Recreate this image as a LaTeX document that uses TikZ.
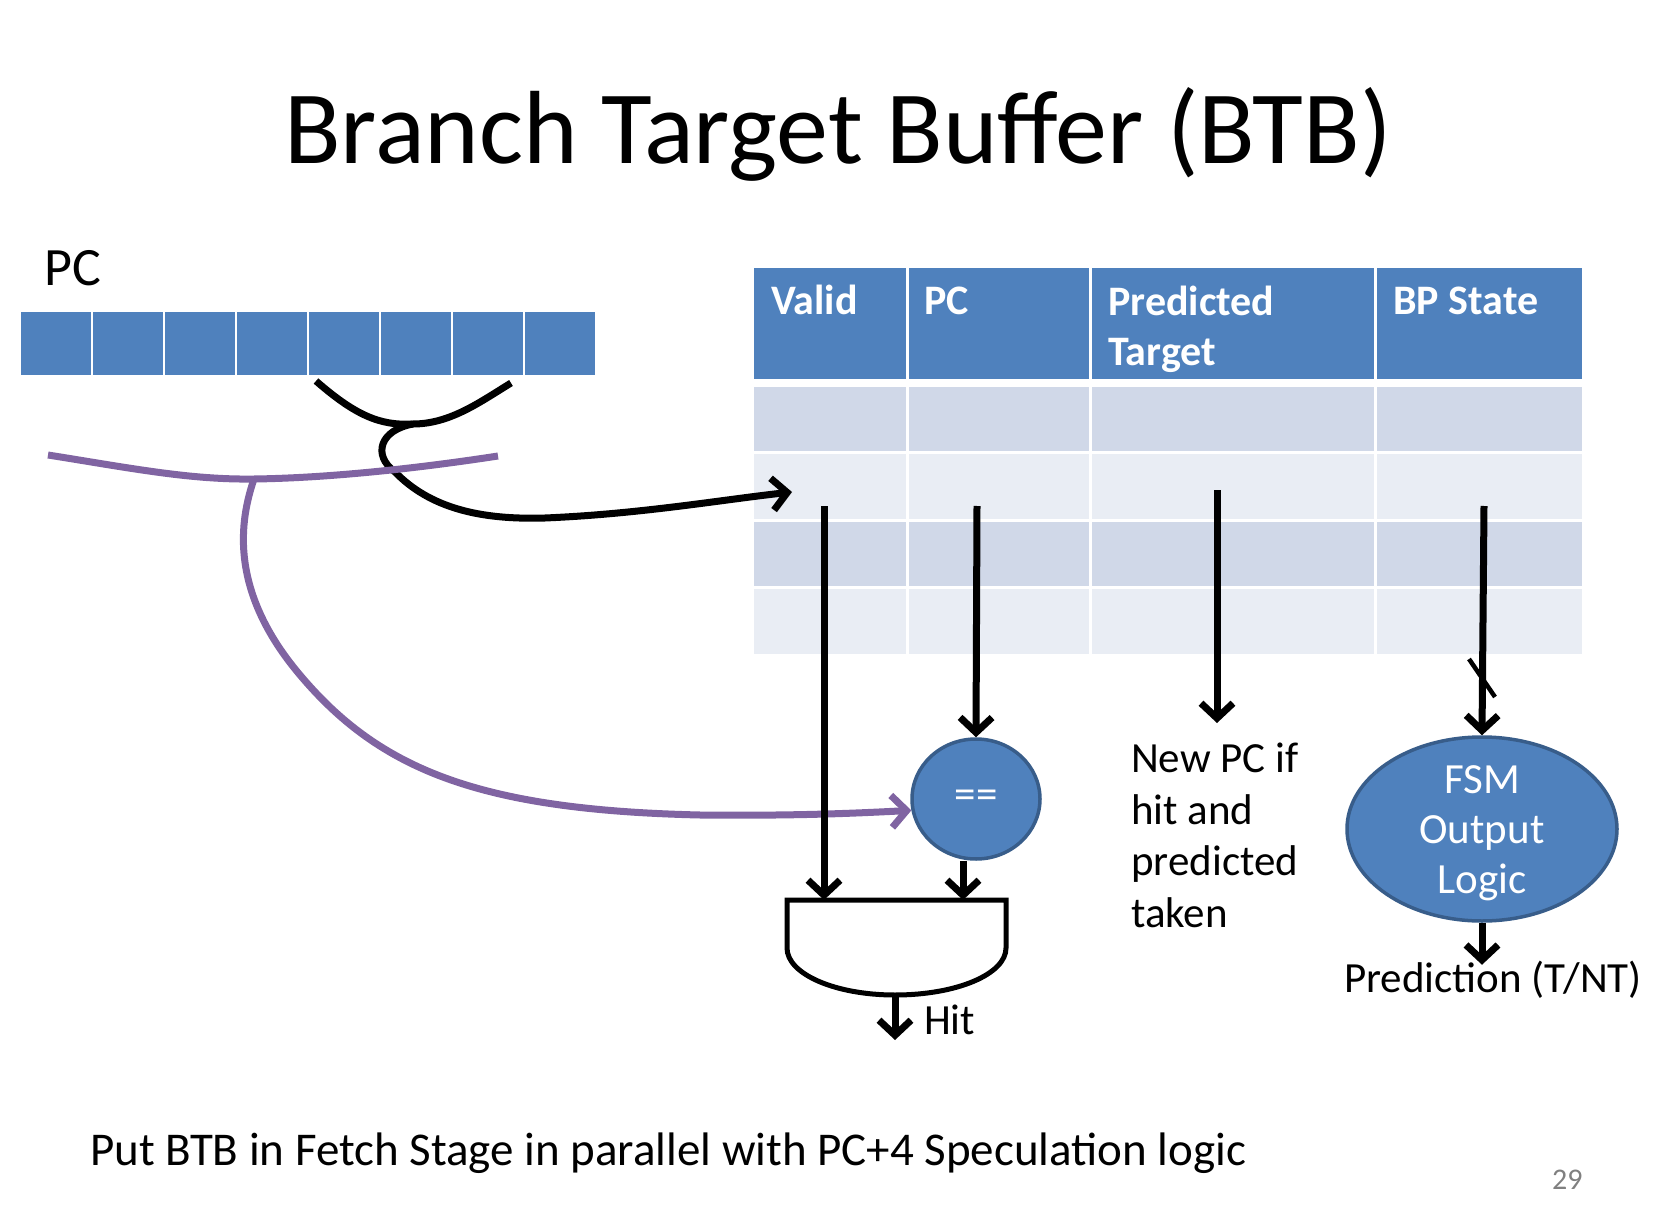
\documentclass[tikz,border=0pt]{standalone}
\usepackage{fontspec}
\setmainfont{Carlito}
\usepackage{xcolor}
\usetikzlibrary{arrows.meta,positioning,shapes.geometric,calc}
\definecolor{btbblue}{HTML}{4F81BD}
\definecolor{btbedge}{HTML}{385D8A}
\definecolor{rowdark}{HTML}{D0D8E8}
\definecolor{rowlight}{HTML}{E9EDF4}
\definecolor{pcpurple}{HTML}{8064A2}

\begin{document}
\begin{tikzpicture}[x=1pt,y=-1pt,
    bodytxt/.style={font=\fontsize{43}{51.5}\selectfont, inner sep=0pt},
    hdrtxt/.style={font=\fontsize{42}{50}\selectfont\bfseries, text=white, anchor=base west, inner sep=0pt, align=left},
    wire/.style={line width=7pt, -{Straight Barb[length=15pt,width=32pt]}},
    blob/.style={ellipse, fill=btbblue, draw=btbedge, line width=3.5pt, inner sep=0pt},
    blobtxt/.style={text=white, align=center, inner sep=0pt, font=\fontsize{43}{50}\selectfont}]
    \useasboundingbox (0,0) rectangle (1660,1214);

    % Title
    \node[anchor=base, inner sep=0pt, font=\fontsize{104}{110}\selectfont] (title) at (838,164) {Branch Target Buffer (BTB)};

    % PC register
    \node[anchor=base west, inner sep=0pt, font=\fontsize{54}{60}\selectfont] (pclbl) at (44,286) {PC};
    \foreach \i in {0,...,7}
        \fill[btbblue] (21+72*\i,312) rectangle ++(70,63);
    \coordinate (wl) at (316,381);
    \coordinate (wm) at (413,424);
    \coordinate (wr) at (511,383);

    % BTB table
    \fill[btbblue] (754,268) rectangle (1582,379);
    \foreach \ya/\yb/\rc in {387/452/rowdark, 452/520/rowlight, 520/587/rowdark, 587/654/rowlight}
        \fill[\rc] (754,\ya) rectangle (1582,\yb);
    \foreach \yy in {452,520,587}
        \draw[white, line width=3pt] (754,\yy) -- (1582,\yy);
    \foreach \xx in {907,1090,1375}
        \draw[white, line width=3pt] (\xx,268) -- (\xx,654);
    \node[hdrtxt] (hvalid) at (771,315) {Valid};
    \node[hdrtxt] (hpc) at (924,315) {PC};
    \node[hdrtxt] (htgt) at (1108,366) {Predicted\\Target};
    \node[hdrtxt] (hbp) at (1393,315) {BP State};

    % read ports
    \coordinate (row) at (792,492);
    \coordinate (vsrc) at (824,506);
    \coordinate (psrc) at (977,506);
    \coordinate (tsrc) at (1217,490);
    \coordinate (bsrc) at (1484,506);

    % Compare, AND gate and FSM
    \node[blob, minimum width=128pt, minimum height=120pt,
        label={[blobtxt]center:==}] (eq) at (976,799) {};
    \node[blob, minimum width=270pt, minimum height=184pt,
        label={[blobtxt, yshift=-4pt]center:{FSM\\Output\\Logic}}] (fsm) at (1482,829) {};
    \coordinate (andl) at (824,900);
    \coordinate (andr) at (963,900);
    \coordinate (andout) at (895,995);
    \draw[line width=5pt] (787,900) -- (1006,900) -- (1006,948)
        .. controls (1006,974) and (957,995) .. (andout)
        .. controls (835,995) and (787,974) .. (787,948) -- cycle;

    % Index bits into the table
    \draw[line width=7pt] (wl) .. controls (355,415) and (380,426) .. (wm) .. controls (450,424) and (480,402) .. (wr);
    \draw[wire] (wm) .. controls (380,430) and (372,455) .. (395,472) .. controls (430,508) and (480,520) .. (545,518) .. controls (640,514) and (720,500) .. (row);

    % Tag bits to the comparator
    \coordinate (tl) at (48,455);
    \coordinate (tm) at (254,479);
    \coordinate (tr) at (498,456);
    \draw[pcpurple, line width=7pt] (tl) .. controls (130,468) and (190,480) .. (tm) .. controls (330,478) and (420,468) .. (tr);
    \draw[pcpurple, wire] (tm) .. controls (240,520) and (228,590) .. (300,675)
        .. controls (380,770) and (480,810) .. (700,815) .. controls (800,816) and (860,813) .. (eq.190);

    % Outputs
    \node[bodytxt, anchor=base west, align=left] (newpc) at (1131,927) {New PC if\\hit and\\predicted\\taken};
    \node[bodytxt, anchor=base west] (hit) at (924,1034) {Hit};
    \coordinate (hitend) at (895,1040);
    \node[bodytxt, anchor=base] (pred) at (1493,992) {Prediction (T/NT)};

    \draw[wire] (vsrc) -- (andl);
    \draw[wire] (psrc) -- (eq.north);
    \draw[wire] (eq.south -| andr) -- (andr);
    \draw[wire] (tsrc) -- (tsrc |- 0,723);
    \draw[wire] (bsrc) -- (fsm.north);
    \draw[line width=4.5pt] (1469,659) -- (1495,697);
    \draw[wire] (andout) -- (hitend);
    \draw[wire] (fsm.south) -- ++(0,42);

    % Footer
    \node[font=\fontsize{47}{50}\selectfont, inner sep=0pt, anchor=base west] (note) at (90,1165) {Put BTB in Fetch Stage in parallel with PC+4 Speculation logic};
    \node[anchor=base west, inner sep=0pt, text=gray, font=\fontsize{30}{32}\selectfont] (pgno) at (1552,1189) {29};
\end{tikzpicture}
\end{document}
